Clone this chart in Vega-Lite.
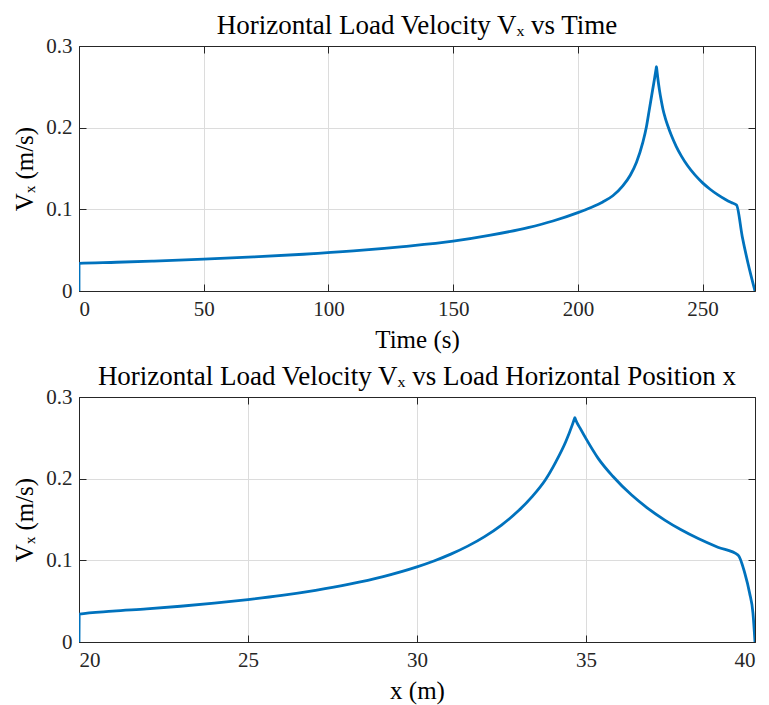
{
  "$schema": "https://vega.github.io/schema/vega-lite/v6.json",
  "background": "white",
  "padding": {"left": 12, "top": 12, "right": 12, "bottom": 6},
  "spacing": 11,
  "config": {
    "font": "Liberation Serif",
    "view": {"stroke": null},
    "title": {"font": "Liberation Serif", "fontSize": 27, "fontWeight": "normal", "color": "#000000", "offset": -5, "anchor": "middle"},
    "axis": {
      "labelFont": "Liberation Serif", "titleFont": "Liberation Serif",
      "labelFontSize": 21, "titleFontSize": 25, "titleFontWeight": "normal",
      "labelColor": "#262626", "titleColor": "#000000",
      "domainColor": "#262626", "domainWidth": 1,
      "tickColor": "#262626", "tickWidth": 1, "tickSize": -7,
      "labelPadding": 14, "titlePadding": 8,
      "gridColor": "#dcdcdc", "gridWidth": 1
    }
  },
  "datasets": {
    "time": [
      {"t": 0, "v": 0}, {"t": 0.01, "v": 0.0339}, {"t": 15, "v": 0.0352}, {"t": 30, "v": 0.0367},
      {"t": 50, "v": 0.039}, {"t": 70, "v": 0.0417}, {"t": 90, "v": 0.045}, {"t": 110, "v": 0.0491},
      {"t": 130, "v": 0.0544}, {"t": 150, "v": 0.061}, {"t": 165, "v": 0.0684}, {"t": 180, "v": 0.0776},
      {"t": 190, "v": 0.0857}, {"t": 200, "v": 0.096}, {"t": 205, "v": 0.102}, {"t": 210, "v": 0.109},
      {"t": 214, "v": 0.1166}, {"t": 218, "v": 0.1287}, {"t": 221, "v": 0.1418}, {"t": 223.5, "v": 0.1577},
      {"t": 226, "v": 0.1816}, {"t": 227.5, "v": 0.2015}, {"t": 228.6, "v": 0.2215}, {"t": 229.95, "v": 0.246},
      {"t": 230.8, "v": 0.2615}, {"t": 231.4, "v": 0.2729}, {"t": 231.5, "v": 0.2747}, {"t": 231.6, "v": 0.2721},
      {"t": 232.1, "v": 0.259}, {"t": 232.7, "v": 0.246}, {"t": 233.4, "v": 0.2335}, {"t": 234.1, "v": 0.2226},
      {"t": 235, "v": 0.2121}, {"t": 236, "v": 0.2027}, {"t": 237.5, "v": 0.1904}, {"t": 239.4, "v": 0.1772},
      {"t": 241.5, "v": 0.1652}, {"t": 244, "v": 0.1533}, {"t": 247, "v": 0.1418}, {"t": 250, "v": 0.1324},
      {"t": 253, "v": 0.1246}, {"t": 256, "v": 0.118}, {"t": 259, "v": 0.1124}, {"t": 261.5, "v": 0.1083},
      {"t": 263.6, "v": 0.1052}, {"t": 265.9, "v": 0.0665}, {"t": 268.2, "v": 0.034}, {"t": 271, "v": 0}
    ],
    "pos": [
      {"x": 20, "v": 0}, {"x": 20.005, "v": 0.034}, {"x": 21, "v": 0.0377}, {"x": 22, "v": 0.0405},
      {"x": 23, "v": 0.0438}, {"x": 24, "v": 0.0476}, {"x": 25, "v": 0.052}, {"x": 26, "v": 0.0571},
      {"x": 27, "v": 0.0633}, {"x": 28, "v": 0.0708}, {"x": 29, "v": 0.0801}, {"x": 30, "v": 0.092},
      {"x": 30.5, "v": 0.0992}, {"x": 31, "v": 0.1076}, {"x": 31.5, "v": 0.1174}, {"x": 32, "v": 0.1291},
      {"x": 32.5, "v": 0.1432}, {"x": 33, "v": 0.1606}, {"x": 33.4, "v": 0.1777}, {"x": 33.8, "v": 0.1987},
      {"x": 34.1, "v": 0.22}, {"x": 34.4, "v": 0.2452}, {"x": 34.6, "v": 0.2665}, {"x": 34.65, "v": 0.2724},
      {"x": 34.67, "v": 0.2747}, {"x": 34.69, "v": 0.2725}, {"x": 34.85, "v": 0.26}, {"x": 35.0, "v": 0.249},
      {"x": 35.36, "v": 0.2249}, {"x": 35.8, "v": 0.2026}, {"x": 36.35, "v": 0.1799}, {"x": 36.8, "v": 0.1646},
      {"x": 37.33, "v": 0.1493}, {"x": 37.8, "v": 0.1377}, {"x": 38.32, "v": 0.1267}, {"x": 38.9, "v": 0.1161},
      {"x": 39.5, "v": 0.1065}, {"x": 39.7, "v": 0.084}, {"x": 39.84, "v": 0.06}, {"x": 39.94, "v": 0.0355},
      {"x": 40, "v": 0}
    ]
  },
  "vconcat": [
    {
      "title": "Horizontal Load Velocity Vₓ vs Time",
      "width": 676, "height": 245,
      "data": {"name": "time"},
      "layer": [
        {
          "mark": {"type": "line", "color": "#0072BD", "strokeWidth": 2.8, "interpolate": "monotone", "clip": true},
          "encoding": {
            "x": {"field": "t", "type": "quantitative", "scale": {"domain": [0, 271], "nice": false, "zero": false},
                  "axis": {"orient": "bottom", "title": "Time (s)", "values": [0, 50, 100, 150, 200, 250]}},
            "y": {"field": "v", "type": "quantitative", "scale": {"domain": [0, 0.3], "nice": false},
                  "axis": {"orient": "left", "title": "Vₓ (m/s)", "values": [0, 0.1, 0.2, 0.3], "format": "~g"}},
            "order": {"value": null}
          }
        },
        {
          "mark": {"type": "line", "opacity": 0},
          "encoding": {
            "x": {"field": "t", "type": "quantitative",
                  "axis": {"orient": "top", "title": null, "labels": false, "grid": false, "values": [0, 50, 100, 150, 200, 250]}},
            "y": {"field": "v", "type": "quantitative",
                  "axis": {"orient": "right", "title": null, "labels": false, "grid": false, "values": [0, 0.1, 0.2, 0.3]}},
            "order": {"value": null}
          }
        }
      ],
      "resolve": {"axis": {"x": "independent", "y": "independent"}}
    },
    {
      "title": "Horizontal Load Velocity Vₓ vs Load Horizontal Position x",
      "width": 676, "height": 245,
      "data": {"name": "pos"},
      "layer": [
        {
          "mark": {"type": "line", "color": "#0072BD", "strokeWidth": 2.8, "interpolate": "monotone", "clip": true},
          "encoding": {
            "x": {"field": "x", "type": "quantitative", "scale": {"domain": [20, 40], "nice": false, "zero": false},
                  "axis": {"orient": "bottom", "title": "x (m)", "values": [20, 25, 30, 35, 40]}},
            "y": {"field": "v", "type": "quantitative", "scale": {"domain": [0, 0.3], "nice": false},
                  "axis": {"orient": "left", "title": "Vₓ (m/s)", "values": [0, 0.1, 0.2, 0.3], "format": "~g"}},
            "order": {"value": null}
          }
        },
        {
          "mark": {"type": "line", "opacity": 0},
          "encoding": {
            "x": {"field": "x", "type": "quantitative",
                  "axis": {"orient": "top", "title": null, "labels": false, "grid": false, "values": [20, 25, 30, 35, 40]}},
            "y": {"field": "v", "type": "quantitative",
                  "axis": {"orient": "right", "title": null, "labels": false, "grid": false, "values": [0, 0.1, 0.2, 0.3]}},
            "order": {"value": null}
          }
        }
      ],
      "resolve": {"axis": {"x": "independent", "y": "independent"}}
    }
  ]
}
